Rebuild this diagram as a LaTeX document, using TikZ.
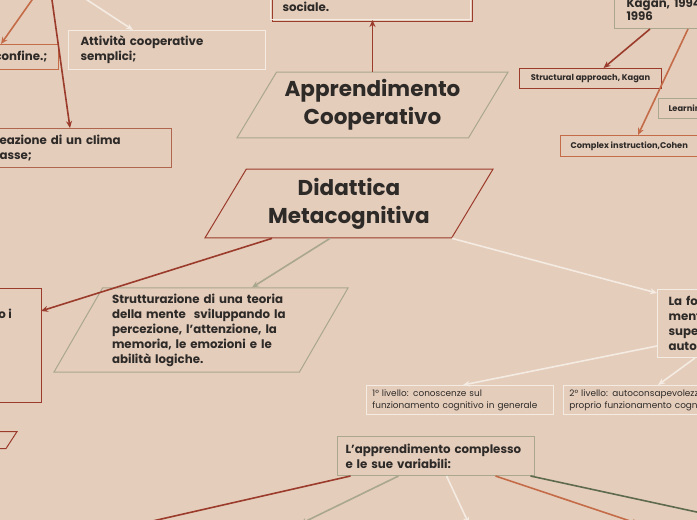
\documentclass[tikz,border=0pt]{standalone}
\usepackage{xcolor}
\usepackage{tikz}
\usepackage{fontspec}
\setmainfont{Poppins}
\usetikzlibrary{shapes.geometric, arrows.meta, positioning}
\definecolor{pagebg}{HTML}{E5CDBB}
\definecolor{brick}{HTML}{9A3B2B}
\definecolor{rust}{HTML}{B0654F}
\definecolor{clay}{HTML}{C46B48}
\definecolor{cream}{HTML}{F4EBE2}
\definecolor{sage}{HTML}{A9A78D}
\definecolor{moss}{HTML}{5E6A4E}
\definecolor{ink}{HTML}{2D2A28}
\tikzstyle{topic} = [trapezium, trapezium left angle=59, trapezium right angle=121, trapezium stretches body, inner xsep=0pt, text=ink, font=\fontsize{21.5}{28}\selectfont\bfseries, align=center, line width=1pt]
\tikzstyle{idea} = [rectangle, anchor=north west, inner xsep=12pt, inner ysep=0pt, text=ink, font=\fontsize{11.8}{15}\selectfont\bfseries, align=left, line width=1pt]
\tikzstyle{tag} = [rectangle, anchor=north west, inner xsep=10pt, inner ysep=0pt, text=ink, font=\fontsize{8.3}{10}\selectfont\bfseries, line width=1pt]
\tikzstyle{detail} = [rectangle, anchor=north west, inner xsep=6pt, inner ysep=0pt, text=ink, font=\fontsize{8.9}{12}\selectfont, align=left, line width=0.8pt]
\tikzstyle{arrow} = [line width=1.6pt, -{Stealth[length=7pt, width=6pt]}]

\begin{document}
\begin{tikzpicture}[x=1pt, y=-1pt]
    \fill[pagebg] (0,0) rectangle (697,520);
    \useasboundingbox (0,0) rectangle (697,520);

    % central topics
    \node[topic, draw=sage, minimum width=271pt, inner ysep=7.4pt] (appr) at (372.5,105) {Apprendimento\\Cooperativo};
    \node[topic, draw=brick, minimum width=288pt, inner ysep=8.8pt] (did) at (349,203.5) {Didattica\\Metacognitiva};
    \node[topic, draw=sage, trapezium left angle=60, trapezium right angle=120, minimum width=294pt, inner ysep=5.7pt, text width=178pt, align=left, font=\fontsize{11.8}{15}\selectfont\bfseries] (strut) at (201,330) {Strutturazione di una teoria\\della mente\ \ sviluppando la\\percezione, l'attenzione, la\\memoria, le emozioni e le\\abilità logiche.};
    \node[topic, draw=brick, trapezium left angle=57, trapezium right angle=123, minimum width=80pt, inner ysep=8.5pt, anchor=top right corner] (stub) at (18,431) {};

    % boxes on the left and top
    \node[idea, draw=cream, anchor=south west, text width=176pt, inner ysep=8pt,
          preaction={draw=brick, transform canvas={xshift=2pt, yshift=-2pt}}] (social) at (270,20) {sociale.};
    \node[idea, draw=cream, text width=173pt, minimum height=39pt] (attiv) at (68,30) {Attività cooperative\\semplici;};
    \node[idea, draw=clay, anchor=north east, align=right, inner xsep=11pt, text width=70pt, minimum height=25pt] (confine) at (59,44) {confine.;};
    \node[idea, draw=rust, anchor=north east, text width=160pt, minimum height=39pt] (clima) at (172,128) {eazione di un clima\\asse;};
    \node[rectangle, draw=brick, anchor=north east, minimum width=80pt, minimum height=114pt] (lbox) at (41,288) {};
    \node[text=ink, font=\fontsize{11.8}{15}\selectfont\bfseries, inner sep=0pt] (oi) at (5,314) {o i};

    % boxes on the right
    \node[idea, draw=sage, anchor=south west, text width=100pt, inner ysep=8pt, font=\fontsize{11.8}{13}\selectfont\bfseries] (kagan) at (614,29) {Kagan, 1994\\1996};
    \node[tag, draw=brick, minimum width=142pt, minimum height=20pt] (struct) at (519,68) {Structural approach, Kagan};
    \node[tag, draw=sage, minimum height=20pt] (learn) at (658,98) {Learnin};
    \node[tag, draw=clay, minimum height=21pt] (complex) at (560,135) {Complex instruction,Cohen};
    \node[idea, draw=cream, text width=100pt, minimum height=68pt, inner xsep=11pt] (lafo) at (657,289) {La fo\\ment\\supe\\auto};
    \node[detail, draw=cream, text width=175pt, minimum height=29pt] (liv1) at (366,385) {1° livello: conoscenze sul\\funzionamento cognitivo in generale};
    \node[detail, draw=cream, text width=175pt, minimum height=29pt] (liv2) at (563,385) {2° livello: autoconsapevolezz\\proprio funzionamento cogni};
    \node[idea, draw=sage, text width=181pt, minimum height=39pt, inner xsep=8pt] (compl) at (337,436) {L'apprendimento complesso\\e le sue variabili:};

    % free ends outside the page
    \coordinate (srcA) at (39,-10);
    \coordinate (srcB) at (72,-10);
    \coordinate (srcC) at (50.6,-10);
    \coordinate (endA) at (135,525);
    \coordinate (endB) at (300,524);
    \coordinate (endC) at (469,524);
    \coordinate (endD) at (639,524);
    \coordinate (endE) at (752,524);

    \draw[arrow, clay] (srcA) -- ([xshift=-58pt]confine.north east);
    \draw[arrow, cream] (srcB) -- ([xshift=65pt]attiv.north west);
    \draw[arrow, brick] (srcC) -- ([xshift=-102pt]clima.north east);
    \draw[arrow, brick] (appr.north) -- (appr.north |- social.south);
    \draw[arrow, brick] ([xshift=-77pt]did.south) -- ([yshift=-23pt]lbox.north east);
    \draw[arrow, sage] ([xshift=-19pt]did.south) -- ([xshift=51pt]strut.north);
    \draw[arrow, cream] (did.bottom right corner) -- ([yshift=-4pt]lafo.north west);
    \draw[arrow, cream] ([yshift=12pt]lafo.south west) -- ([xshift=3pt]liv1.north);
    \draw[arrow, cream] ([xshift=38pt]lafo.south west) -- ([xshift=95pt]liv2.north west);
    \draw[arrow, brick] ([xshift=36pt]kagan.south west) -- ([xshift=13pt]struct.north);
    \draw[arrow, clay] ([xshift=74pt]kagan.south west) -- ([xshift=78pt]complex.north west);
    \draw[arrow, brick] ([xshift=-85.5pt]compl.south) -- (endA);
    \draw[arrow, sage] ([xshift=-37.5pt]compl.south) -- (endB);
    \draw[arrow, cream] ([xshift=10.5pt]compl.south) -- (endC);
    \draw[arrow, clay] ([xshift=59.5pt]compl.south) -- (endD);
    \draw[arrow, moss] ([xshift=94.5pt]compl.south) -- (endE);
\end{tikzpicture}
\end{document}
